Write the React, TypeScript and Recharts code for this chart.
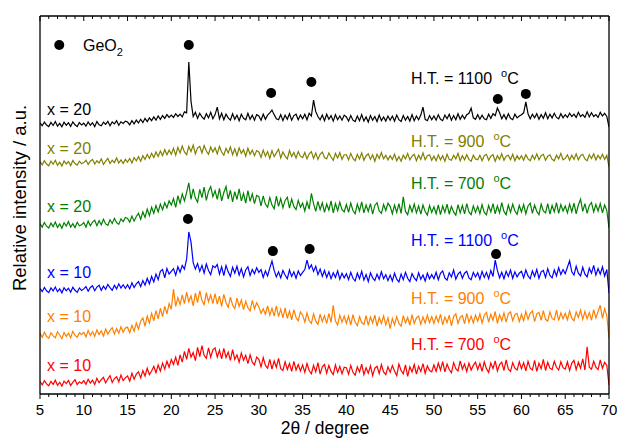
import { LineChart, Line, XAxis, YAxis, ReferenceDot, Customized } from "recharts"

// 2θ grid of the scans (0.25° step, 5°..70°)
const twoTheta = Array.from({ length: 261 }, (_, i) => 5 + i * 0.25)
const xTicks = Array.from({ length: 66 }, (_, i) => 5 + i)
const yTicks = [0, 100, 200, 300, 400, 500, 600, 700, 800, 900, 1000, 1100, 1200, 1300, 1400, 1500]

// raw intensities (a.u.), one row = 5°
const red = [
  34, 20, 38, 24, 16, 35, 22, 40, 18, 31, 14, 36, 25, 39, 17, 30, 42, 21, 33, 26,
  38, 22, 44, 27, 40, 21, 48, 29, 42, 52, 28, 45, 60, 30, 47, 55, 33, 62, 38, 50,
  58, 36, 70, 44, 66, 76, 50, 82, 58, 92, 64, 80, 100, 72, 106, 80, 114, 88, 122, 96,
  130, 108, 140, 104, 150, 118, 165, 130, 178, 140, 160, 125, 182, 142, 190, 148, 135, 180, 140, 172,
  180, 140, 170, 132, 178, 138, 162, 126, 172, 130, 150, 118, 158, 126, 148, 112, 150, 118, 106, 140,
  130, 98, 138, 104, 92, 130, 88, 124, 96, 135, 90, 82, 120, 86, 112, 78, 122, 84, 108, 80,
  106, 74, 112, 82, 68, 104, 76, 116, 66, 98, 108, 70, 104, 78, 64, 106, 74, 100, 68, 96,
  94, 66, 104, 74, 62, 98, 76, 110, 64, 94, 70, 102, 60, 92, 100, 68, 108, 76, 64, 98,
  74, 104, 80, 60, 110, 82, 68, 106, 56, 98, 76, 108, 66, 100, 78, 112, 70, 102, 82, 76,
  106, 78, 114, 84, 120, 76, 110, 86, 72, 116, 90, 80, 124, 88, 110, 78, 114, 84, 104, 118,
  86, 112, 78, 120, 90, 74, 114, 90, 124, 80, 108, 118, 82, 128, 88, 78, 116, 92, 84, 120,
  90, 116, 80, 122, 92, 84, 126, 78, 114, 90, 130, 82, 118, 92, 86, 122, 96, 84, 120, 94,
  88, 120, 82, 114, 126, 86, 118, 92, 132, 84, 185, 96, 88, 122, 96, 86, 128, 92, 118, 104,
  19,
]

const orange = [
  44, 26, 48, 30, 22, 46, 32, 24, 50, 36, 20, 47, 30, 44, 24, 52, 34, 26, 46, 38,
  48, 28, 56, 34, 50, 30, 58, 38, 54, 32, 62, 40, 56, 68, 40, 64, 44, 72, 48, 66,
  70, 46, 78, 52, 88, 62, 96, 110, 74, 118, 88, 130, 98, 142, 106, 152, 116, 160, 128, 172,
  148, 235, 160, 198, 168, 210, 172, 222, 180, 206, 162, 218, 176, 228, 186, 168, 220, 180, 210, 172,
  215, 170, 205, 160, 212, 176, 156, 200, 166, 150, 196, 160, 188, 146, 182, 154, 140, 186, 150, 176,
  158, 130, 150, 126, 162, 122, 152, 118, 162, 116, 148, 110, 154, 108, 140, 102, 146, 112, 98, 136,
  122, 92, 132, 98, 86, 128, 96, 82, 126, 94, 120, 86, 130, 90, 165, 96, 80, 122, 92, 118,
  86, 118, 80, 124, 92, 76, 116, 90, 82, 120, 78, 114, 88, 122, 74, 112, 86, 118, 80, 110,
  64, 108, 80, 116, 86, 74, 120, 88, 112, 78, 124, 86, 110, 118, 82, 114, 88, 122, 90, 116,
  86, 118, 92, 126, 80, 114, 90, 122, 76, 116, 128, 86, 112, 120, 84, 130, 92, 118, 88, 122,
  96, 128, 88, 122, 134, 92, 126, 100, 138, 86, 124, 98, 132, 92, 128, 136, 98, 124, 130, 94,
  126, 98, 138, 104, 130, 140, 94, 128, 134, 100, 142, 104, 96, 136, 108, 102, 144, 98, 132, 106,
  130, 102, 140, 108, 98, 136, 112, 144, 104, 138, 106, 134, 100, 146, 110, 138, 165, 108, 150, 120,
  23,
]

const blue = [
  38, 24, 42, 28, 20, 40, 27, 44, 24, 36, 19, 41, 28, 39, 22, 43, 30, 21, 40, 29,
  36, 46, 26, 42, 50, 28, 44, 52, 30, 48, 34, 55, 42, 30, 52, 36, 58, 40, 54, 38,
  54, 36, 62, 42, 58, 68, 46, 72, 52, 82, 58, 90, 66, 100, 76, 112, 120, 84, 124, 100,
  112, 124, 96, 132, 108, 138, 122, 165, 283, 240, 150, 122, 146, 112, 138, 104, 144, 116, 98, 136,
  128, 142, 100, 132, 94, 138, 110, 90, 130, 104, 134, 96, 124, 88, 118, 132, 94, 120, 102, 128,
  108, 120, 86, 114, 92, 126, 157, 116, 88, 110, 84, 116, 96, 80, 118, 90, 110, 82, 114, 94,
  108, 120, 161, 124, 140, 112, 134, 98, 122, 90, 116, 86, 110, 80, 106, 86, 114, 78, 104, 84,
  102, 76, 108, 82, 70, 104, 80, 112, 74, 98, 68, 106, 84, 72, 100, 78, 110, 80, 98, 72,
  96, 70, 104, 78, 66, 100, 76, 108, 82, 68, 102, 84, 72, 106, 78, 96, 70, 104, 80, 98,
  80, 108, 76, 104, 114, 84, 74, 106, 88, 118, 78, 100, 110, 82, 104, 112, 84, 76, 108, 88,
  106, 78, 112, 86, 108, 80, 116, 90, 161, 116, 84, 108, 80, 112, 90, 118, 82, 110, 88, 104,
  112, 84, 118, 92, 80, 114, 90, 120, 82, 110, 116, 86, 124, 94, 84, 118, 92, 128, 98, 120,
  102, 130, 158, 110, 96, 134, 104, 92, 130, 100, 88, 126, 104, 138, 96, 124, 100, 132, 92, 120,
  18,
]

const green = [
  20, 4, 24, 8, 0, 22, 6, 26, 3, 18, -1, 23, 9, 28, 4, 19, 2, 25, 10, 14,
  24, 4, 30, 10, 26, 34, 10, 32, 14, 38, 18, 12, 36, 20, 42, 24, 16, 40, 28, 46,
  42, 26, 52, 30, 50, 64, 38, 70, 46, 82, 54, 90, 64, 98, 70, 104, 80, 110, 88, 118,
  100, 128, 90, 140, 108, 148, 118, 155, 196, 124, 170, 130, 112, 168, 132, 178, 120, 160, 180, 136,
  162, 124, 172, 118, 154, 180, 126, 164, 114, 158, 124, 170, 118, 150, 108, 162, 116, 148, 106, 142,
  136, 96, 140, 104, 90, 132, 100, 84, 138, 94, 128, 88, 120, 134, 86, 126, 94, 80, 120, 90,
  108, 74, 114, 82, 150, 106, 72, 116, 80, 110, 68, 104, 78, 118, 66, 106, 76, 112, 80, 70,
  102, 68, 108, 76, 62, 104, 74, 114, 66, 100, 72, 106, 60, 98, 110, 74, 64, 102, 76, 108,
  94, 62, 100, 68, 106, 64, 135, 72, 58, 98, 70, 104, 66, 96, 60, 100, 72, 56, 98, 68,
  92, 62, 100, 58, 96, 68, 104, 60, 94, 70, 56, 102, 66, 98, 62, 106, 70, 58, 96, 68,
  94, 62, 102, 68, 58, 98, 70, 106, 62, 96, 66, 110, 72, 58, 100, 68, 104, 74, 60, 98,
  70, 102, 62, 96, 108, 64, 100, 72, 58, 104, 74, 66, 106, 60, 98, 70, 110, 64, 102, 74,
  96, 66, 104, 70, 108, 62, 100, 125, 72, 106, 64, 98, 110, 70, 102, 74, 106, 66, 100, 76,
  0,
]

const olive = [
  38, 24, 42, 28, 20, 40, 27, 44, 22, 36, 19, 41, 28, 39, 21, 43, 30, 23, 40, 29,
  34, 44, 26, 40, 48, 28, 42, 32, 50, 26, 40, 52, 30, 44, 34, 54, 32, 46, 30, 48,
  36, 52, 32, 56, 42, 60, 40, 64, 48, 70, 52, 74, 56, 80, 60, 84, 64, 90, 68, 88,
  70, 96, 66, 100, 76, 106, 80, 68, 104, 82, 110, 72, 98, 104, 76, 108, 84, 70, 102, 80,
  98, 72, 104, 80, 66, 96, 76, 102, 68, 94, 64, 98, 74, 90, 62, 96, 70, 88, 64, 86,
  80, 56, 88, 62, 82, 52, 86, 60, 76, 92, 54, 80, 62, 50, 86, 60, 78, 54, 82, 62,
  56, 78, 50, 72, 82, 52, 76, 48, 70, 80, 56, 50, 76, 58, 44, 74, 54, 78, 48, 68,
  68, 46, 74, 52, 42, 70, 50, 76, 44, 64, 72, 48, 68, 40, 70, 52, 78, 50, 66, 46,
  64, 48, 70, 42, 60, 40, 66, 50, 74, 46, 62, 70, 42, 66, 48, 76, 46, 64, 68, 44,
  62, 42, 68, 46, 64, 40, 70, 48, 44, 66, 50, 74, 42, 64, 46, 68, 48, 40, 66, 50,
  46, 66, 42, 64, 70, 44, 62, 68, 40, 64, 48, 72, 44, 62, 66, 46, 70, 42, 64, 48,
  64, 44, 68, 50, 42, 66, 48, 72, 46, 64, 70, 44, 62, 68, 48, 42, 66, 50, 74, 46,
  52, 68, 44, 66, 48, 72, 46, 64, 70, 50, 42, 68, 52, 72, 46, 66, 50, 70, 48, 66,
  15,
]

const black = [
  56, 44, 60, 47, 40, 58, 45, 62, 42, 54, 39, 59, 46, 57, 41, 61, 48, 40, 58, 47,
  55, 42, 60, 46, 57, 40, 62, 48, 44, 59, 50, 63, 44, 60, 52, 66, 46, 61, 54, 64,
  60, 48, 66, 52, 68, 56, 72, 58, 76, 62, 78, 66, 82, 68, 86, 72, 88, 76, 92, 80,
  90, 80, 96, 84, 94, 82, 104, 100, 320, 150, 84, 102, 76, 98, 82, 72, 96, 78, 102, 74,
  92, 125, 74, 98, 70, 94, 78, 68, 96, 72, 90, 66, 94, 76, 70, 98, 72, 90, 68, 92,
  86, 68, 94, 72, 90, 100, 112, 92, 74, 70, 92, 66, 90, 72, 96, 68, 88, 94, 70, 90,
  74, 94, 70, 98, 86, 155, 105, 84, 70, 90, 66, 94, 72, 88, 64, 92, 70, 86, 68, 90,
  82, 64, 88, 68, 62, 86, 66, 92, 64, 82, 60, 88, 68, 84, 62, 90, 66, 82, 64, 86,
  68, 86, 64, 90, 70, 62, 88, 68, 84, 64, 92, 66, 86, 70, 90, 125, 72, 66, 88, 70,
  86, 68, 92, 72, 66, 90, 74, 94, 68, 88, 70, 96, 72, 90, 74, 92, 98, 120, 78, 72,
  92, 72, 90, 74, 70, 94, 76, 96, 88, 121, 100, 74, 92, 72, 96, 76, 70, 94, 78, 86,
  92, 100, 147, 96, 74, 94, 78, 96, 72, 92, 76, 100, 74, 94, 78, 98, 80, 74, 96, 78,
  92, 80, 98, 84, 94, 80, 102, 84, 92, 80, 104, 82, 100, 84, 92, 80, 102, 86, 98, 84,
  38,
]

// vertical stacking offsets of the patterns
const offsets = [0, 200, 400, 700, 950, 1100]

// GeO2 reflections marked on the x = 20 / 1100 °C and x = 10 / 1100 °C patterns
const geo2Top = [
  { t: 22.0, y: 1494 },
  { t: 31.4, y: 1286 },
  { t: 36.0, y: 1334 },
  { t: 57.3, y: 1260 },
  { t: 60.5, y: 1282 },
]
const geo2Bottom = [
  { t: 21.9, y: 739 },
  { t: 31.6, y: 600 },
  { t: 35.8, y: 609 },
  { t: 57.1, y: 587 },
]
const legendDot = { t: 7.2, y: 1494 }

const series = [
  { key: "red", values: red, color: "#ff0000", x: "x = 10", ht: "700" },
  { key: "orange", values: orange, color: "#ff8000", x: "x = 10", ht: "900" },
  { key: "blue", values: blue, color: "#0000ff", x: "x = 10", ht: "1100" },
  { key: "green", values: green, color: "#008000", x: "x = 20", ht: "700" },
  { key: "olive", values: olive, color: "#808000", x: "x = 20", ht: "900" },
  { key: "black", values: black, color: "#000000", x: "x = 20", ht: "1100" },
]

const data = twoTheta.map((t, i) => {
  const row: Record<string, number> = { t }
  series.forEach((s, k) => {
    row[s.key] = s.values[i] + offsets[k]
  })
  return row
})

const FONT = "'Liberation Sans', Arial, sans-serif"

const BottomTick = (props: any) => {
  const { x, y, payload } = props
  const major = payload.value % 5 === 0
  return (
    <g>
      <line x1={x} x2={x} y1={y} y2={y + (major ? 5 : 3)} stroke="#000" strokeWidth={1} />
      {major && (
        <text x={x} y={y + 21} textAnchor="middle" fontSize={15} fill="#000" fontFamily={FONT}>
          {payload.value}
        </text>
      )}
    </g>
  )
}

const TopTick = (props: any) => {
  const { x, y, payload } = props
  const major = payload.value % 5 === 0
  return <line x1={x} x2={x} y1={y} y2={y + (major ? 5 : 3)} stroke="#000" strokeWidth={1} />
}

// label baselines (px) for the left "x = .." and right "H.T. = .." texts, bottom to top
const leftY = [371, 322, 278, 212, 154, 115]
const rightY = [350, 304, 246, 189, 147, 84]

const Annotations = () => (
  <g fontFamily={FONT} fontSize={16}>
    <text x={83} y={51} fill="#000">
      GeO<tspan fontSize={11} dy={5}>2</tspan>
    </text>
    {series.map((s, i) => (
      <g key={s.key} fill={s.color}>
        <text x={47} y={leftY[i]}>{s.x}</text>
        <text x={411} y={rightY[i]}>
          H.T. = {s.ht}
          <tspan dx={9} dy={-7} fontSize={11}>o</tspan>
          <tspan dy={7}>C</tspan>
        </text>
      </g>
    ))}
    <text x={325} y={434} textAnchor="middle" fontSize={17.5} fill="#000">
      2θ / degree
    </text>
    <text x={26} y={198} textAnchor="middle" fontSize={18.5} fill="#000" transform="rotate(-90 26 198)">
      Relative intensity / a.u.
    </text>
  </g>
)

export default function App() {
  return (
    <div style={{ position: "absolute", left: 0, top: 0, background: "#fff" }}>
      <LineChart
        width={617}
        height={438}
        data={data}
        margin={{ top: 16, right: 8, bottom: 0, left: 40 }}
        style={{ fontFamily: FONT }}
      >
        <XAxis
          xAxisId="bottom"
          dataKey="t"
          type="number"
          domain={[5, 70]}
          ticks={xTicks}
          interval={0}
          tickLine={false}
          tickSize={0}
          tickMargin={0}
          tick={<BottomTick />}
          height={44}
          axisLine={{ stroke: "#000", strokeWidth: 1.3 }}
          allowDataOverflow
        />
        <XAxis
          xAxisId="top"
          orientation="top"
          mirror
          dataKey="t"
          type="number"
          domain={[5, 70]}
          ticks={xTicks}
          interval={0}
          tickLine={false}
          tickSize={0}
          tickMargin={0}
          tick={<TopTick />}
          axisLine={{ stroke: "#000", strokeWidth: 1.3 }}
          allowDataOverflow
        />
        <YAxis
          yAxisId="left"
          type="number"
          domain={[-20, 1620]}
          ticks={yTicks}
          interval={0}
          mirror
          tick={false}
          tickSize={5}
          tickLine={{ stroke: "#000" }}
          axisLine={{ stroke: "#000", strokeWidth: 1.3 }}
          allowDataOverflow
        />
        <YAxis
          yAxisId="right"
          orientation="right"
          type="number"
          domain={[-20, 1620]}
          ticks={yTicks}
          interval={0}
          mirror
          tick={false}
          tickSize={5}
          tickLine={{ stroke: "#000" }}
          axisLine={{ stroke: "#000", strokeWidth: 1.3 }}
          allowDataOverflow
        />
        {series.map((s) => (
          <Line
            key={s.key}
            xAxisId="bottom"
            yAxisId="left"
            dataKey={s.key}
            type="linear"
            stroke={s.color}
            strokeWidth={1.2}
            dot={false}
            activeDot={false}
            isAnimationActive={false}
          />
        ))}
        {[...geo2Top, ...geo2Bottom, legendDot].map((m, i) => (
          <ReferenceDot
            key={i}
            xAxisId="bottom"
            yAxisId="left"
            x={m.t}
            y={m.y}
            r={5}
            fill="#000"
            stroke="none"
          />
        ))}
        <Customized component={Annotations} />
      </LineChart>
    </div>
  )
}
